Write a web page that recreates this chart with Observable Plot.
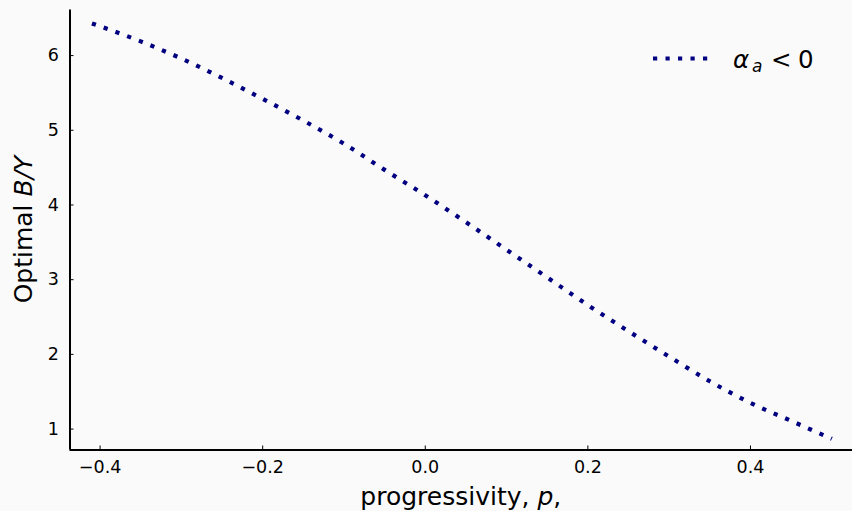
<!DOCTYPE html>
<html><head><meta charset="utf-8">
<script src="https://cdn.jsdelivr.net/npm/d3@7"></script>
<script src="https://cdn.jsdelivr.net/npm/@observablehq/plot@0.6"></script>
<style>
html,body{margin:0;padding:0;background:#fafafa;}
#chart{width:852px;height:511px;}
</style></head><body><div id="chart"></div>
<script>
const progressivity = [-0.41, -0.35, -0.30, -0.25, -0.20, -0.15, -0.10, -0.05, 0.00, 0.05, 0.10, 0.15, 0.20, 0.25, 0.30, 0.35, 0.40, 0.45, 0.50];
const optimalBY     = [6.43, 6.19, 5.96, 5.70, 5.42, 5.13, 4.82, 4.47, 4.13, 3.77, 3.40, 3.03, 2.66, 2.31, 1.97, 1.64, 1.35, 1.11, 0.87];
const xTicks = [-0.4, -0.2, 0.0, 0.2, 0.4];
const yTicks = [1, 2, 3, 4, 5, 6];
const xDomain = [-0.437, 0.5255];
const yDomain = [0.72, 6.61];

const W = 852, H = 511, mt = 9.5, mb = 61.5, ml = 69.5, mr = 0;
const navy = "#000080";
const data = progressivity.map((p, i) => ({p, by: optimalBY[i]}));

const plot = Plot.plot({
  width: W, height: H,
  marginTop: mt, marginBottom: mb, marginLeft: ml, marginRight: mr,
  style: {background: "#fafafa", fontFamily: "'DejaVu Sans', sans-serif", fontSize: "17.5px", color: "#000", overflow: "visible"},
  x: {domain: xDomain, ticks: xTicks, tickSize: 0, tickPadding: 11, tickFormat: d3.format(".1f"), label: null},
  y: {domain: yDomain, ticks: yTicks, tickSize: 0, tickPadding: 11, tickFormat: d => String(d), label: null},
  marks: [
    Plot.ruleX(xTicks, {insetTop: H - mt - mb - 4, stroke: "#000", strokeWidth: 1}),
    Plot.ruleY(yTicks, {insetRight: W - ml - mr - 4, stroke: "#000", strokeWidth: 1}),
    Plot.line(data, {x: "p", y: "by", stroke: navy, strokeWidth: 4.2, strokeDasharray: "4.2,8.3", strokeLinecap: "butt", curve: "monotone-x"}),
    Plot.ruleX([xDomain[0]], {stroke: "#000", strokeWidth: 2}),
    Plot.ruleY([yDomain[0]], {stroke: "#000", strokeWidth: 2})
  ]
});

const svg = d3.select(plot);
// x label
const xl = svg.append("text")
  .attr("x", (ml + W - mr) / 2).attr("y", 505)
  .attr("text-anchor", "middle").attr("font-size", 25).attr("fill", "#000");
xl.append("tspan").text("progressivity, ");
xl.append("tspan").attr("font-style", "italic").text("p");
xl.append("tspan").text(",");
// y label
const yl = svg.append("text")
  .attr("transform", `translate(32,${(mt + H - mb) / 2}) rotate(-90)`)
  .attr("text-anchor", "middle").attr("font-size", 25).attr("fill", "#000");
yl.append("tspan").text("Optimal ");
yl.append("tspan").attr("font-style", "italic").text("B/Y");
// legend
svg.append("line")
  .attr("x1", 653).attr("x2", 710).attr("y1", 58.5).attr("y2", 58.5)
  .attr("stroke", navy).attr("stroke-width", 4.2).attr("stroke-dasharray", "4.2,8.3");
const legendParts = [
  {t: "α", x: 733, y: 68.3, fs: 24.5, it: true},
  {t: "a", x: 752, y: 72.3, fs: 17, it: true},
  {t: "<", x: 771, y: 68.3, fs: 24.5, it: false},
  {t: "0", x: 798, y: 68.3, fs: 24.5, it: false}
];
for (const d of legendParts) {
  svg.append("text").attr("x", d.x).attr("y", d.y).attr("text-anchor", "start")
    .attr("font-size", d.fs).attr("font-style", d.it ? "italic" : "normal").attr("fill", "#000").text(d.t);
}

document.getElementById("chart").appendChild(plot);
</script>
</body></html>
